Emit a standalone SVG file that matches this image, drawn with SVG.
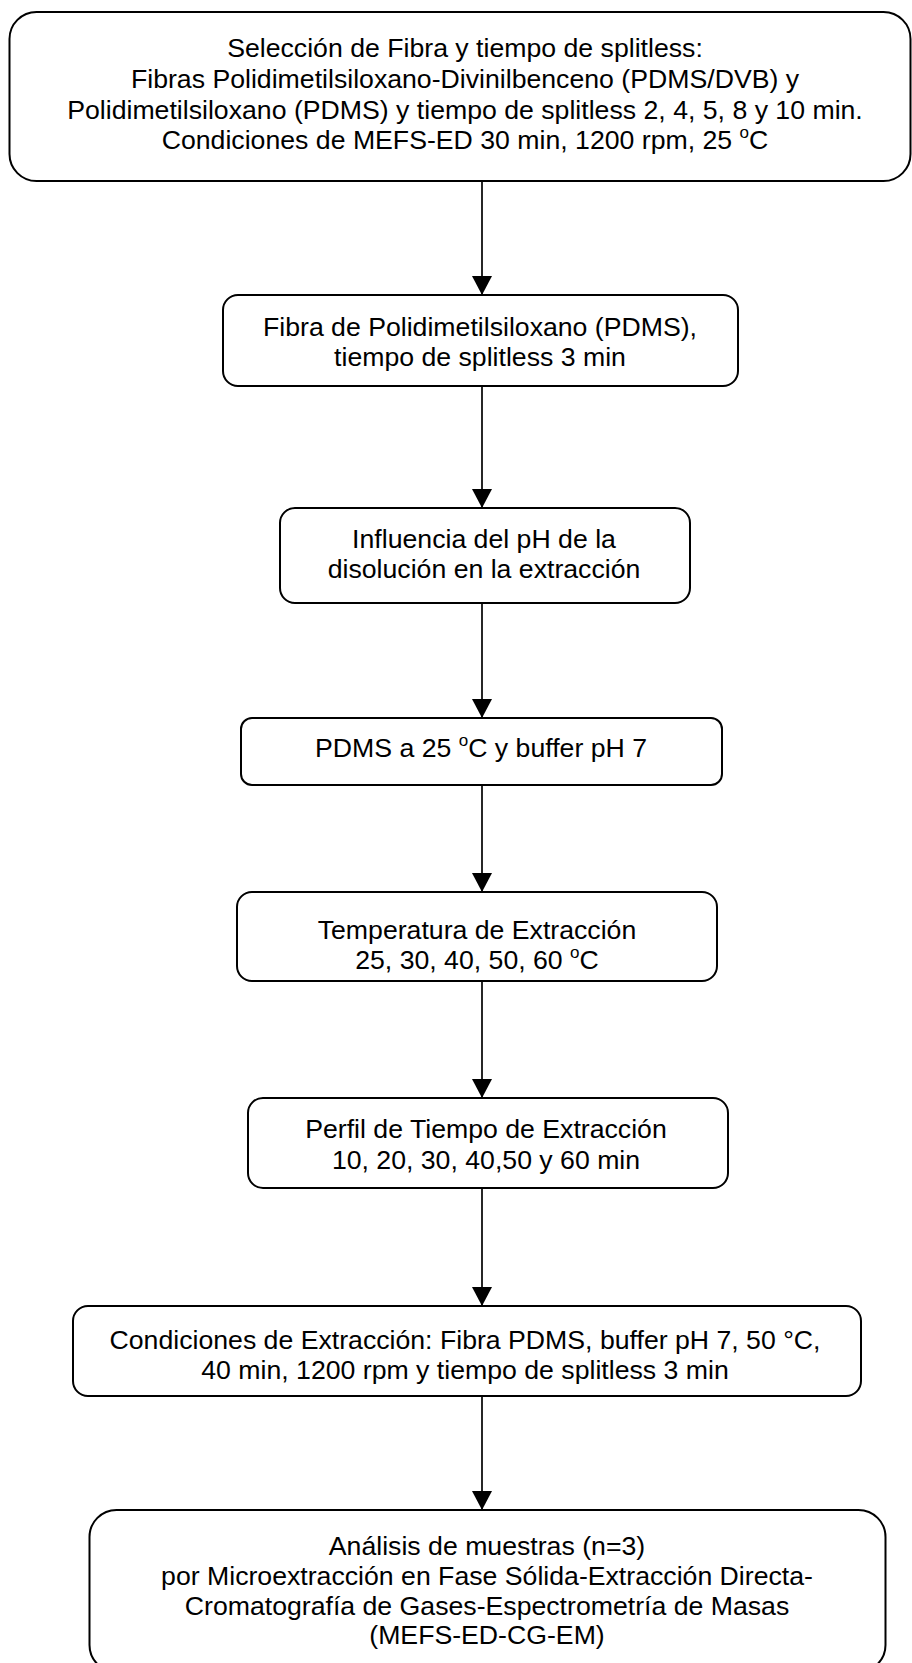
<svg xmlns="http://www.w3.org/2000/svg" width="912" height="1663" viewBox="0 0 912 1663">
  <style>
    .box { fill: #ffffff; stroke: #000000; stroke-width: 2; }
    .lbl { font-family: "Liberation Sans", Arial, sans-serif; font-size: 26.67px; fill: #000000; text-anchor: middle; }
    .sup { font-size: 17px; }
    .edge { stroke: #000000; stroke-width: 1.7; fill: none; }
  </style>
  <defs>
    <marker id="arrow" markerUnits="userSpaceOnUse" markerWidth="20" markerHeight="20" viewBox="0 0 20 20" refX="19" refY="10" orient="auto">
      <path d="M0,0 L19,10 L0,20 Z" fill="#000000"/>
    </marker>
  </defs>
  <rect width="912" height="1663" fill="#ffffff"/>

  <!-- connectors -->
  <g id="connectors">
    <line class="edge" x1="482" y1="181" x2="482" y2="295" marker-end="url(#arrow)"/>
    <line class="edge" x1="482" y1="386" x2="482" y2="508" marker-end="url(#arrow)"/>
    <line class="edge" x1="482" y1="603" x2="482" y2="718" marker-end="url(#arrow)"/>
    <line class="edge" x1="482" y1="785" x2="482" y2="892" marker-end="url(#arrow)"/>
    <line class="edge" x1="482" y1="981" x2="482" y2="1098" marker-end="url(#arrow)"/>
    <line class="edge" x1="482" y1="1188" x2="482" y2="1306" marker-end="url(#arrow)"/>
    <line class="edge" x1="482" y1="1396" x2="482" y2="1510" marker-end="url(#arrow)"/>
  </g>

  <g id="seleccion">
    <rect class="box" x="9.5" y="12" width="901" height="169" rx="27" ry="27"/>
    <text class="lbl" x="465" y="57">Selección de Fibra y tiempo de splitless:</text>
    <text class="lbl" x="465" y="88">Fibras Polidimetilsiloxano-Divinilbenceno (PDMS/DVB) y</text>
    <text class="lbl" x="465" y="118.5">Polidimetilsiloxano (PDMS) y tiempo de splitless 2, 4, 5, 8 y 10 min.</text>
    <text class="lbl" x="465" y="149">Condiciones de MEFS-ED 30 min, 1200 rpm, 25 <tspan class="sup" dy="-11">o</tspan><tspan dy="11">C</tspan></text>
  </g>

  <g id="fibra-pdms">
    <rect class="box" x="223" y="295" width="515" height="91" rx="15" ry="15"/>
    <text class="lbl" x="480" y="336">Fibra de Polidimetilsiloxano (PDMS),</text>
    <text class="lbl" x="480" y="366">tiempo de splitless 3 min</text>
  </g>

  <g id="influencia-ph">
    <rect class="box" x="280" y="508" width="410" height="95" rx="15" ry="15"/>
    <text class="lbl" x="484" y="548">Influencia del pH de la</text>
    <text class="lbl" x="484" y="578">disolución en la extracción</text>
  </g>

  <g id="pdms-buffer">
    <rect class="box" x="241" y="718" width="481" height="67" rx="11" ry="11"/>
    <text class="lbl" x="481" y="757">PDMS a 25 <tspan class="sup" dy="-11">o</tspan><tspan dy="11">C y buffer pH 7</tspan></text>
  </g>

  <g id="temperatura">
    <rect class="box" x="237" y="892" width="480" height="89" rx="15" ry="15"/>
    <text class="lbl" x="477" y="939">Temperatura de Extracción</text>
    <text class="lbl" x="477" y="969">25, 30, 40, 50, 60 <tspan class="sup" dy="-11">o</tspan><tspan dy="11">C</tspan></text>
  </g>

  <g id="perfil-tiempo">
    <rect class="box" x="248" y="1098" width="480" height="90" rx="15" ry="15"/>
    <text class="lbl" x="486" y="1138">Perfil de Tiempo de Extracción</text>
    <text class="lbl" x="486" y="1169">10, 20, 30, 40,50 y 60 min</text>
  </g>

  <g id="condiciones">
    <rect class="box" x="73" y="1306" width="788" height="90" rx="15" ry="15"/>
    <text class="lbl" x="465" y="1349">Condiciones de Extracción: Fibra PDMS, buffer pH 7, 50 °C,</text>
    <text class="lbl" x="465" y="1379">40 min, 1200 rpm y tiempo de splitless 3 min</text>
  </g>

  <g id="analisis">
    <rect class="box" x="89.5" y="1510" width="796" height="162" rx="27" ry="27"/>
    <text class="lbl" x="487" y="1555">Análisis de muestras (n=3)</text>
    <text class="lbl" x="487" y="1585">por Microextracción en Fase Sólida-Extracción Directa-</text>
    <text class="lbl" x="487" y="1615">Cromatografía de Gases-Espectrometría de Masas</text>
    <text class="lbl" x="487" y="1644">(MEFS-ED-CG-EM)</text>
  </g>
</svg>
